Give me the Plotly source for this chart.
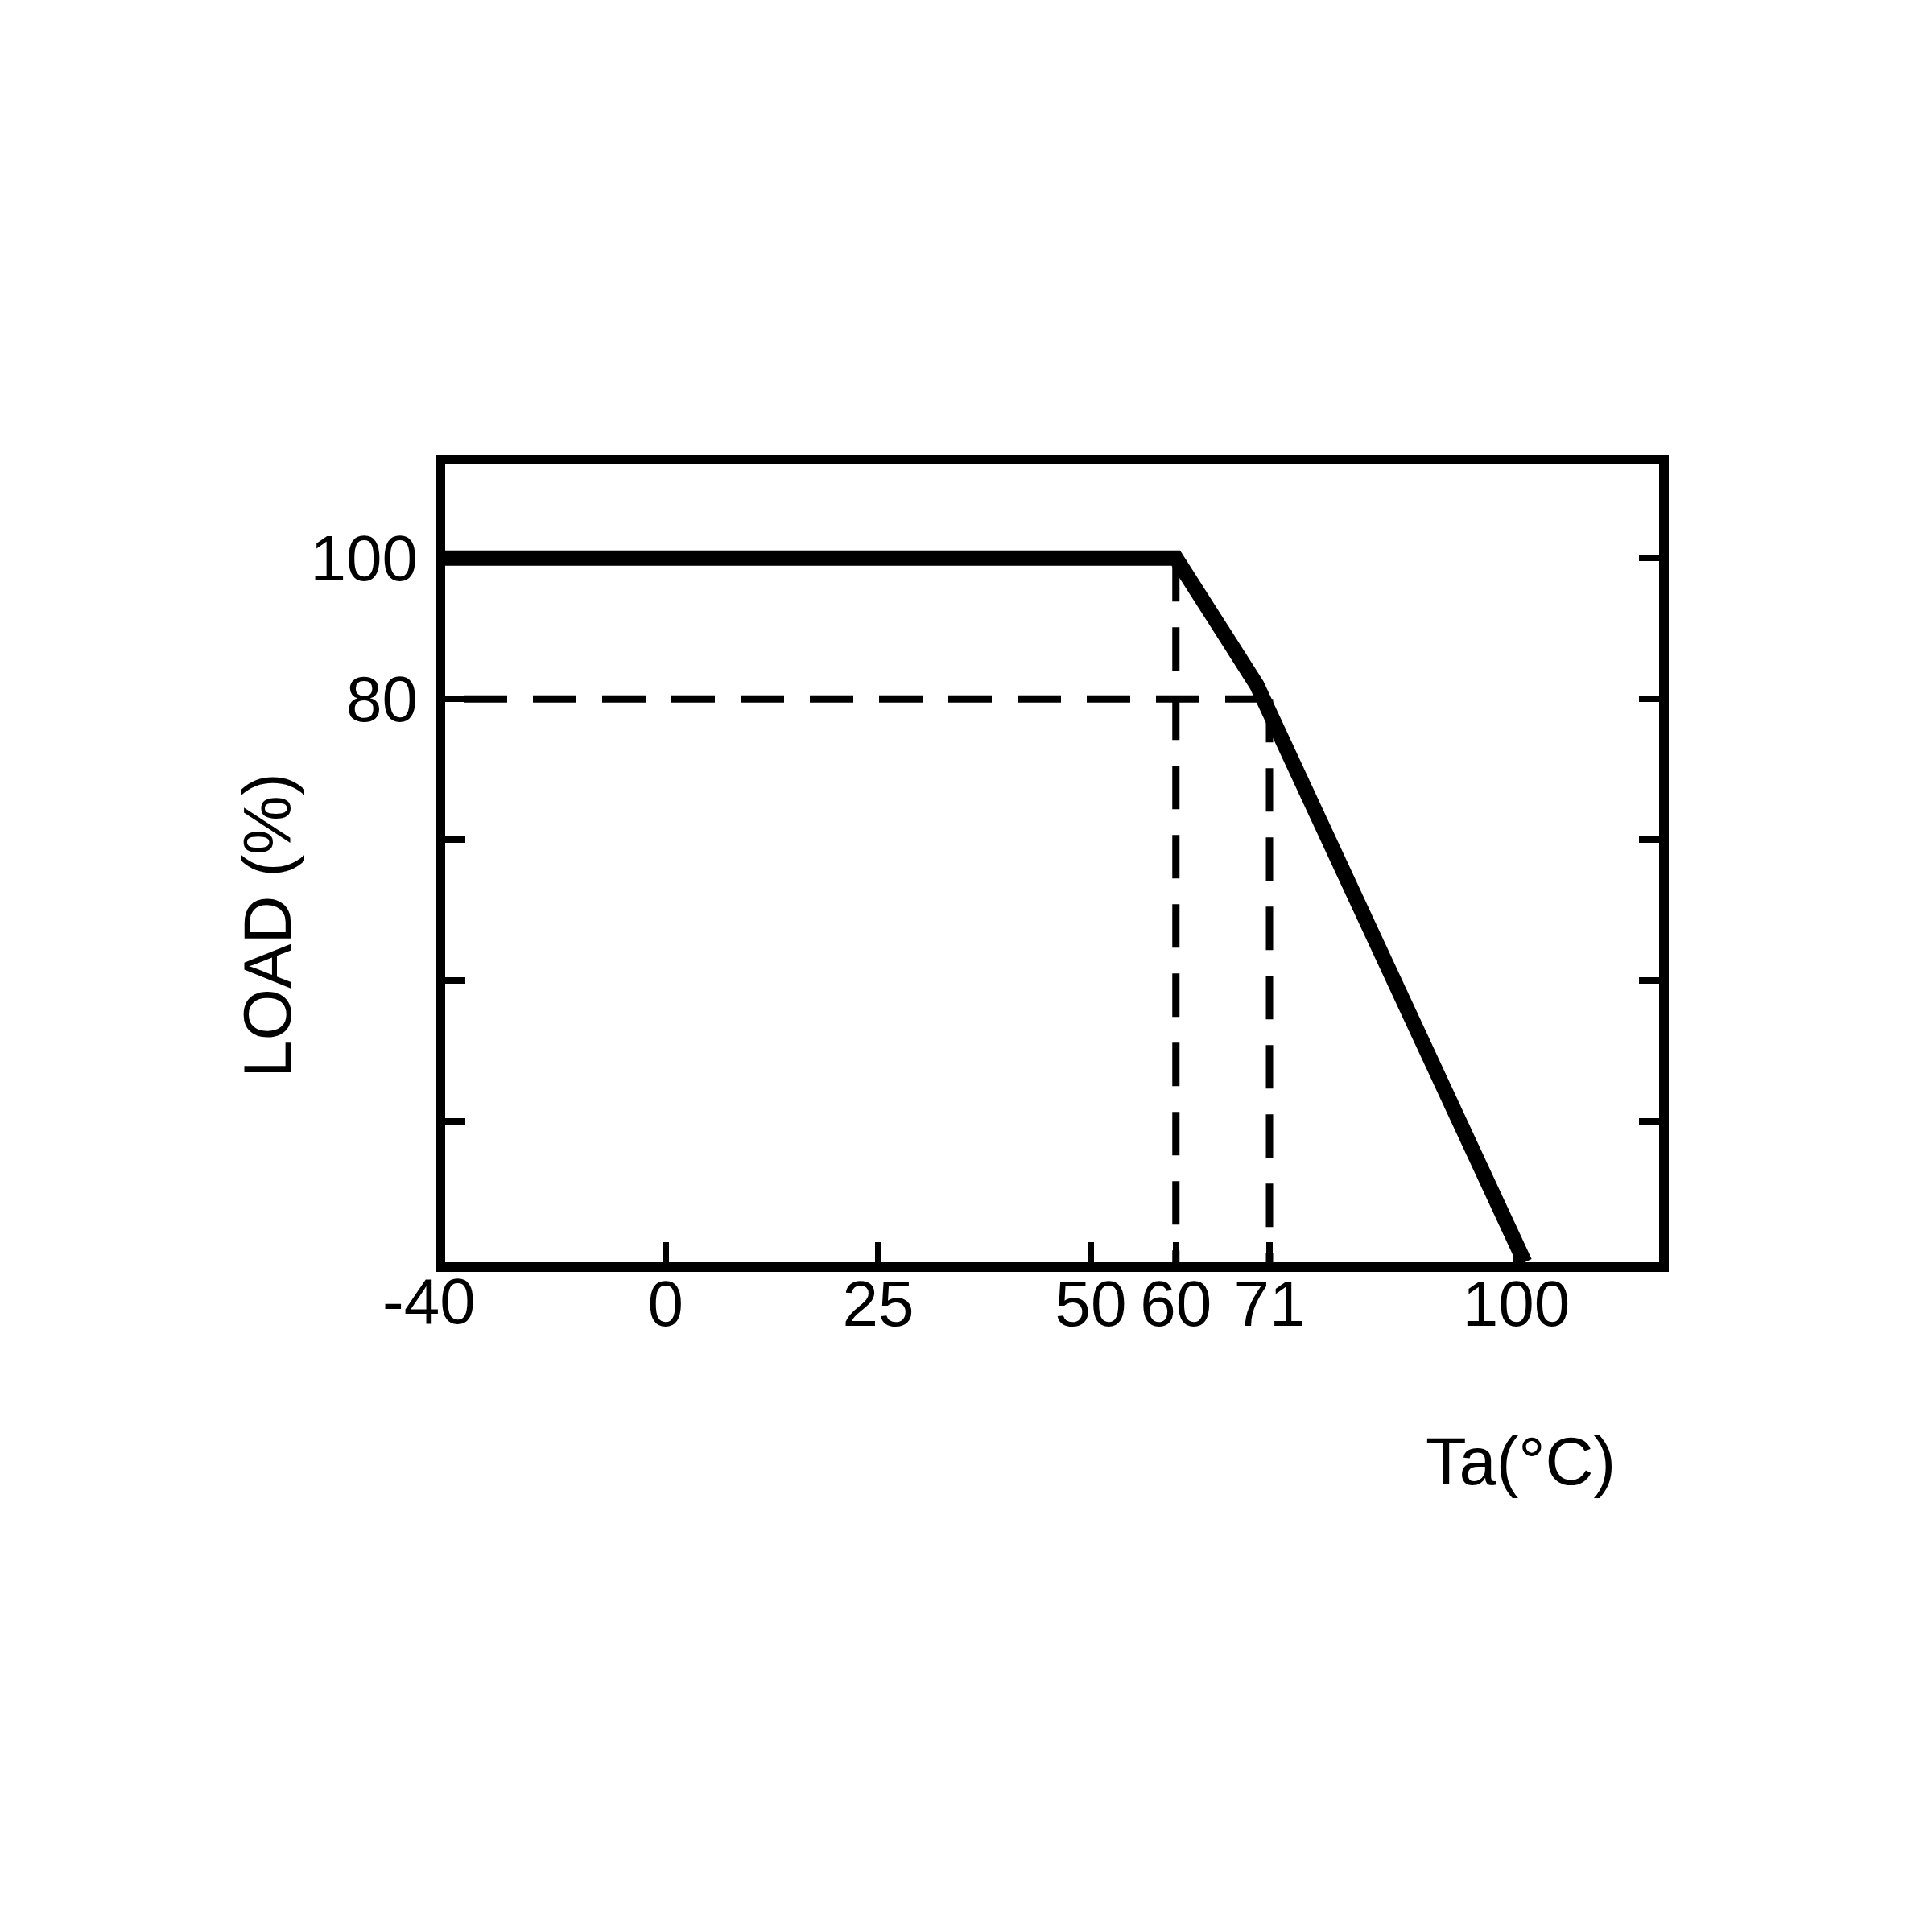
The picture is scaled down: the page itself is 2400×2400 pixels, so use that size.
import plotly.graph_objects as go

# ---- data ----
temps = [-40, 60, 69.5, 101]        # Ta (°C) at derating curve corners
load = [100, 100, 82, 0]            # LOAD (%)
guide_h = dict(x=[-40, 71], y=[80, 80])      # dashed 80 % guide
guide_v60 = dict(x=[60, 60], y=[100, 0])     # dashed 60 °C guide
guide_v71 = dict(x=[71, 71], y=[80, 0])      # dashed 71 °C guide
x_tick_vals = [0, 25, 50, 60, 71, 100]
x_tick_text = ["0", "25", "50", "60", "71", "100"]
x_edge_label = "-40"
y_tick_vals = [20, 40, 60, 80, 100]
y_tick_text = ["", "", "", "80", "100"]
x_title = "Ta(°C)"
y_title = "LOAD (%)"

FONT = "Liberation Sans, Arial, Helvetica, sans-serif"
FS = 80
dash = "54px,32px"

fig = go.Figure()
for g in (guide_h, guide_v60, guide_v71):
    fig.add_trace(go.Scatter(x=g["x"], y=g["y"], mode="lines",
                             line=dict(color="black", width=9, dash=dash), showlegend=False))
fig.add_trace(go.Scatter(x=temps, y=load, mode="lines",
                         line=dict(color="black", width=19), showlegend=False))

fig.update_layout(
    width=2400, height=2400,
    paper_bgcolor="white", plot_bgcolor="white",
    margin=dict(l=545, r=347, t=569, b=840),
    font=dict(family=FONT, size=FS, color="black"),
    xaxis=dict(range=[-25.9, 116.8], tickmode="array", tickvals=x_tick_vals,
               ticktext=x_tick_text, ticks="inside", ticklen=25, tickwidth=8,
               tickcolor="black", showline=True, linewidth=12, linecolor="black",
               mirror=True, showgrid=False, zeroline=False, ticklabelstandoff=-29,
               tickfont=dict(family=FONT, size=FS, color="black")),
    yaxis=dict(range=[0, 113.3], tickmode="array", tickvals=y_tick_vals,
               ticktext=y_tick_text, ticks="inside", ticklen=25, tickwidth=8,
               tickcolor="black", showline=True, linewidth=12, linecolor="black",
               mirror="allticks", showgrid=False, zeroline=False, ticklabelstandoff=6,
               tickfont=dict(family=FONT, size=FS, color="black")),
    annotations=[
        dict(text=x_edge_label, xref="paper", yref="paper", x=-0.0132, y=-0.049,
             xanchor="center", yanchor="middle", showarrow=False,
             font=dict(family=FONT, size=FS, color="black")),
        dict(text=x_title, xref="paper", yref="paper", x=0.886, y=-0.25,
             xanchor="center", yanchor="middle", showarrow=False,
             font=dict(family=FONT, size=83, color="black")),
        dict(text=y_title, xref="paper", yref="paper", x=-0.146, y=0.422,
             xanchor="center", yanchor="middle", showarrow=False, textangle=-90,
             font=dict(family=FONT, size=83, color="black")),
    ],
)

fig.write_html("out.html")
